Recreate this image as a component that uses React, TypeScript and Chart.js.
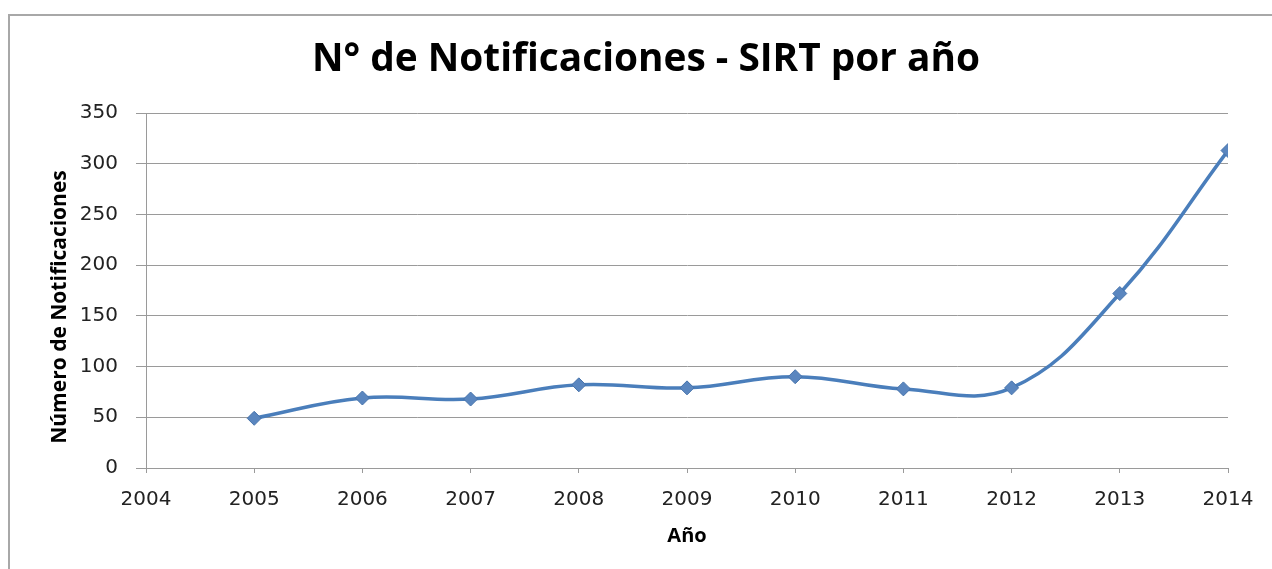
import React, { useEffect, useRef } from "react";
import { Chart, registerables } from "chart.js";

Chart.register(...registerables);

const years = [2005, 2006, 2007, 2008, 2009, 2010, 2011, 2012, 2013, 2014];
const notifications = [49, 69, 68, 82, 79, 90, 78, 79, 172, 313];
const xTickValues = [2004, 2005, 2006, 2007, 2008, 2009, 2010, 2011, 2012, 2013, 2014];
const yTickValues = [0, 50, 100, 150, 200, 250, 300, 350];

const chartTitle = "N° de Notificaciones - SIRT por año";
const xTitle = "Año";
const yTitle = "Número de Notificaciones";

const titlesPlugin = {
  id: "customTitles",
  afterDraw(chart: any) {
    const ctx = chart.ctx as CanvasRenderingContext2D;
    ctx.save();
    ctx.fillStyle = "#000";
    ctx.textAlign = "center";
    ctx.textBaseline = "middle";
    ctx.font = 'bold 38.8px "Open Sans"';
    ctx.fillText(chartTitle, 646, 60);
    ctx.translate(60, 307);
    ctx.rotate(-Math.PI / 2);
    ctx.font = 'bold 21px "Open Sans"';
    ctx.fillText(yTitle, 0, 0);
    ctx.restore();
  },
};

export default function App() {
  const ref = useRef<HTMLCanvasElement>(null);

  useEffect(() => {
    if (!ref.current) return;
    const gridColor = "#9a9a9a";
    const chart = new Chart(ref.current, {
      type: "line",
      data: {
        datasets: [
          {
            data: years.map((x, i) => ({ x, y: notifications[i] })),
            borderColor: "#4a7ebb",
            borderWidth: 3.5,
            tension: 0.4,
            pointStyle: "rectRot",
            pointRadius: 7,
            pointBackgroundColor: "#5a86bf",
            pointBorderColor: "#4673ab",
            pointBorderWidth: 1,
          },
        ],
      },
      options: {
        responsive: false,
        animation: false,
        layout: { padding: { left: 0, right: 44, top: 113, bottom: 0 } },
        plugins: {
          legend: { display: false },
          tooltip: { enabled: false },
          title: { display: false },
        },
        scales: {
          x: {
            type: "linear",
            min: 2004,
            max: 2014,
            afterFit: (s: any) => {
              s.height = 101;
            },
            afterBuildTicks: (s: any) => {
              s.ticks = xTickValues.map((v) => ({ value: v }));
            },
            ticks: {
              callback: (v: any) => String(v),
              autoSkip: false,
              maxRotation: 0,
              font: { family: "DejaVu Sans", size: 20 },
              color: "#222",
              padding: 15,
            },
            grid: { drawOnChartArea: false, drawTicks: true, tickLength: 5, color: gridColor },
            border: { color: gridColor, width: 1 },
            title: {
              display: true,
              text: xTitle,
              color: "#000",
              font: { family: "Open Sans", size: 20, weight: "bold", lineHeight: 1.2 },
              padding: { top: 0, bottom: 21 },
            },
          },
          y: {
            min: 0,
            max: 350,
            afterFit: (s: any) => {
              s.width = 146;
            },
            afterBuildTicks: (s: any) => {
              s.ticks = yTickValues.map((v) => ({ value: v }));
            },
            ticks: {
              font: { family: "DejaVu Sans", size: 20 },
              color: "#222",
              padding: 18,
            },
            grid: { color: gridColor, tickLength: 10 },
            border: { color: gridColor, width: 1 },
          },
        },
      },
      plugins: [titlesPlugin],
    });
    return () => chart.destroy();
  }, []);

  return (
    <div style={{ position: "fixed", left: 0, top: 0, width: 1272, height: 569, background: "#fff" }}>
      <div
        style={{
          position: "absolute",
          left: 8,
          top: 14,
          right: -4,
          bottom: -4,
          borderLeft: "2px solid #a8a8a8",
          borderTop: "2px solid #a8a8a8",
        }}
      />
      <canvas ref={ref} width={1272} height={569} style={{ position: "absolute", left: 0, top: 0 }} />
    </div>
  );
}
